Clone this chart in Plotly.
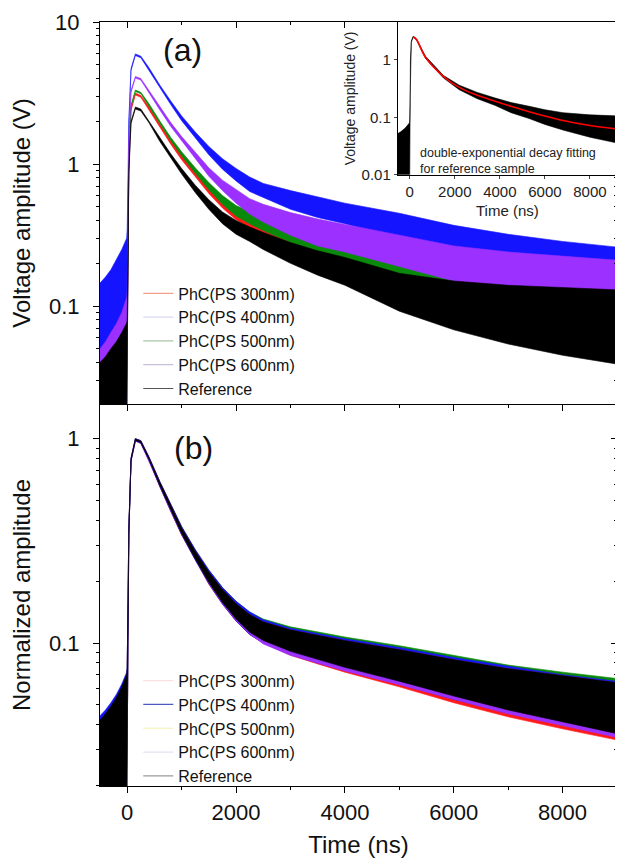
import plotly.graph_objects as go

FONT = "Arial, Liberation Sans, sans-serif"

# ---------------- data ----------------
series_names = ["PhC(PS 300nm)", "PhC(PS 400nm)", "PhC(PS 500nm)", "PhC(PS 600nm)", "Reference"]

# common time grid (ns) for the noise-band envelopes
time_ns = [-500, -400, -300, -200, -100, -10, 0, 30, 70, 150, 250, 400, 600, 800, 1000, 1250,
           1500, 1750, 2000, 2250, 2500, 3000, 3500, 4000, 5000, 6000, 7000, 8000, 9000]

# panel (a): voltage amplitude (V), upper / lower edge of each noisy trace
a_300_hi = [0.030, 0.034, 0.038, 0.043, 0.050, 0.060, 0.065, 1.10, 2.45, 3.16, 3.04, 2.53, 1.91, 1.46, 1.16, 0.89, 0.70, 0.57, 0.485, 0.44, 0.40, 0.345, 0.305, 0.275, 0.22, 0.185, 0.162, 0.147, 0.130]
a_300_lo = [0.015, 0.015, 0.015, 0.015, 0.015, 0.015, 0.015, 1.05, 2.38, 3.06, 2.95, 2.44, 1.82, 1.38, 1.07, 0.81, 0.62, 0.49, 0.405, 0.355, 0.32, 0.260, 0.225, 0.195, 0.145, 0.115, 0.093, 0.080, 0.068]
a_400_hi = [0.145, 0.160, 0.180, 0.210, 0.250, 0.300, 0.350, 2.00, 4.70, 5.96, 5.75, 4.76, 3.59, 2.78, 2.18, 1.68, 1.33, 1.09, 0.93, 0.81, 0.73, 0.65, 0.59, 0.53, 0.45, 0.37, 0.32, 0.285, 0.26]
a_400_lo = [0.015, 0.015, 0.015, 0.015, 0.015, 0.015, 0.015, 1.90, 4.55, 5.80, 5.61, 4.64, 3.45, 2.62, 2.02, 1.52, 1.16, 0.92, 0.76, 0.64, 0.58, 0.48, 0.42, 0.38, 0.30, 0.24, 0.20, 0.170, 0.14]
a_500_hi = [0.040, 0.045, 0.050, 0.058, 0.068, 0.080, 0.085, 1.15, 2.60, 3.32, 3.20, 2.66, 2.01, 1.54, 1.22, 0.94, 0.74, 0.60, 0.51, 0.46, 0.42, 0.36, 0.32, 0.29, 0.23, 0.195, 0.17, 0.153, 0.136]
a_500_lo = [0.015, 0.015, 0.015, 0.015, 0.015, 0.015, 0.015, 1.10, 2.52, 3.24, 3.12, 2.58, 1.93, 1.46, 1.14, 0.86, 0.66, 0.52, 0.43, 0.38, 0.34, 0.28, 0.24, 0.21, 0.155, 0.123, 0.10, 0.086, 0.074]
a_600_hi = [0.050, 0.056, 0.065, 0.075, 0.090, 0.115, 0.125, 1.45, 3.30, 4.13, 4.00, 3.29, 2.50, 1.96, 1.56, 1.20, 0.94, 0.77, 0.66, 0.57, 0.52, 0.455, 0.41, 0.375, 0.315, 0.265, 0.24, 0.225, 0.21]
a_600_lo = [0.015, 0.015, 0.015, 0.015, 0.015, 0.015, 0.015, 1.38, 3.20, 4.03, 3.90, 3.21, 2.40, 1.84, 1.44, 1.09, 0.82, 0.65, 0.53, 0.445, 0.39, 0.315, 0.265, 0.24, 0.19, 0.15, 0.127, 0.107, 0.093]
a_ref_hi = [0.040, 0.044, 0.050, 0.056, 0.065, 0.076, 0.080, 0.90, 2.00, 2.52, 2.44, 2.01, 1.52, 1.18, 0.93, 0.71, 0.56, 0.46, 0.40, 0.36, 0.33, 0.28, 0.245, 0.22, 0.17, 0.15, 0.14, 0.135, 0.13]
a_ref_lo = [0.015, 0.015, 0.015, 0.015, 0.015, 0.015, 0.015, 0.86, 1.93, 2.44, 2.36, 1.95, 1.44, 1.10, 0.85, 0.63, 0.48, 0.38, 0.32, 0.285, 0.25, 0.20, 0.165, 0.14, 0.092, 0.068, 0.054, 0.045, 0.039]

# panel (b): normalized amplitude, upper / lower edge
b_ref_hi = [0.042, 0.045, 0.049, 0.054, 0.061, 0.070, 0.075, 0.36, 0.80, 1.00, 0.975, 0.81, 0.612, 0.473, 0.367, 0.282, 0.223, 0.183, 0.156, 0.138, 0.127, 0.116, 0.109, 0.103, 0.093, 0.083, 0.075, 0.069, 0.064]
b_ref_lo = [0.015, 0.015, 0.015, 0.015, 0.015, 0.015, 0.015, 0.34, 0.78, 0.98, 0.955, 0.79, 0.588, 0.447, 0.343, 0.258, 0.198, 0.158, 0.131, 0.113, 0.103, 0.091, 0.083, 0.076, 0.065, 0.055, 0.047, 0.041, 0.036]
b_300_hi = [0.040, 0.043, 0.047, 0.052, 0.059, 0.068, 0.072, 0.36, 0.80, 0.99, 0.965, 0.80, 0.605, 0.466, 0.360, 0.276, 0.218, 0.178, 0.152, 0.134, 0.123, 0.112, 0.105, 0.099, 0.089, 0.080, 0.072, 0.066, 0.061]
b_300_lo = [0.015, 0.015, 0.015, 0.015, 0.015, 0.015, 0.015, 0.34, 0.78, 0.975, 0.950, 0.785, 0.582, 0.441, 0.338, 0.254, 0.194, 0.155, 0.128, 0.110, 0.100, 0.087, 0.079, 0.072, 0.061, 0.051, 0.0435, 0.038, 0.0335]
b_400_hi = [0.044, 0.047, 0.051, 0.056, 0.063, 0.072, 0.076, 0.36, 0.80, 1.00, 0.98, 0.815, 0.617, 0.478, 0.372, 0.287, 0.228, 0.187, 0.160, 0.142, 0.130, 0.118, 0.111, 0.105, 0.095, 0.085, 0.077, 0.070, 0.065]
b_400_lo = [0.015, 0.015, 0.015, 0.015, 0.015, 0.015, 0.015, 0.34, 0.78, 0.975, 0.950, 0.785, 0.583, 0.442, 0.339, 0.255, 0.195, 0.155, 0.128, 0.110, 0.100, 0.088, 0.080, 0.074, 0.063, 0.053, 0.0455, 0.040, 0.035]
b_500_hi = [0.042, 0.045, 0.049, 0.054, 0.061, 0.070, 0.075, 0.36, 0.80, 1.00, 0.978, 0.813, 0.616, 0.477, 0.371, 0.286, 0.227, 0.187, 0.160, 0.142, 0.131, 0.120, 0.113, 0.107, 0.097, 0.087, 0.078, 0.072, 0.067]
b_500_lo = [0.015, 0.015, 0.015, 0.015, 0.015, 0.015, 0.015, 0.34, 0.78, 0.98, 0.955, 0.79, 0.588, 0.447, 0.343, 0.258, 0.198, 0.158, 0.131, 0.113, 0.103, 0.091, 0.083, 0.076, 0.065, 0.055, 0.047, 0.041, 0.036]
b_600_hi = [0.041, 0.044, 0.048, 0.053, 0.060, 0.069, 0.073, 0.36, 0.80, 1.00, 0.975, 0.81, 0.612, 0.473, 0.367, 0.282, 0.223, 0.183, 0.156, 0.138, 0.127, 0.116, 0.109, 0.103, 0.093, 0.083, 0.075, 0.069, 0.064]
b_600_lo = [0.015, 0.015, 0.015, 0.015, 0.015, 0.015, 0.015, 0.34, 0.78, 0.975, 0.950, 0.785, 0.584, 0.443, 0.340, 0.256, 0.196, 0.156, 0.129, 0.111, 0.099, 0.087, 0.080, 0.073, 0.0625, 0.053, 0.045, 0.0395, 0.0345]

# inset: reference sample with double-exponential fit
inset_time = [-800, -600, -400, -200, -10, 0, 30, 70, 150, 300, 700, 1500, 2200, 3000,
              3800, 4500, 5300, 6000, 6800, 8000, 9300]
inset_hi = [0.045, 0.050, 0.056, 0.065, 0.080, 0.090, 1.00, 2.10, 2.55, 2.30, 1.15, 0.53, 0.36, 0.27, 0.215, 0.18, 0.155, 0.135, 0.12, 0.11, 0.105]
inset_lo = [0.010, 0.010, 0.010, 0.010, 0.010, 0.010, 0.95, 2.00, 2.45, 2.20, 1.05, 0.48, 0.30, 0.21, 0.16, 0.12, 0.095, 0.075, 0.06, 0.045, 0.035]
fit_time = [150, 300, 700, 1500, 2200, 3000, 3800, 4500, 5300, 6000, 6800, 8000, 9300]
fit_val = [2.50, 2.25, 1.10, 0.51, 0.33, 0.24, 0.19, 0.155, 0.125, 0.105, 0.088, 0.072, 0.062]

x_ticks = [0, 2000, 4000, 6000, 8000]

# ---------------- styling ----------------
COL = {"PhC(PS 300nm)": "#ff1a1a", "PhC(PS 400nm)": "#1414ff", "PhC(PS 500nm)": "#0a8a0a",
       "PhC(PS 600nm)": "#9b30ff", "Reference": "#000000"}
LEG_A = {"PhC(PS 300nm)": "#f3a08a", "PhC(PS 400nm)": "#d8d8f4", "PhC(PS 500nm)": "#a9c6a9",
         "PhC(PS 600nm)": "#c8c0d8", "Reference": "#555555"}
LEG_B = {"PhC(PS 300nm)": "#fbe0e0", "PhC(PS 400nm)": "#4a5ac0", "PhC(PS 500nm)": "#f0f0b0",
         "PhC(PS 600nm)": "#e6e0f2", "Reference": "#9a9a9a"}

fig = go.Figure()


def band(t, hi, lo, color, xa, ya):
    fig.add_trace(go.Scatter(x=t + t[::-1], y=hi + lo[::-1], fill="toself", fillcolor=color,
                             mode="lines", line=dict(width=0.6, color=color),
                             hoverinfo="skip", showlegend=False, xaxis=xa, yaxis=ya))


a_bands = {"PhC(PS 300nm)": (a_300_hi, a_300_lo), "PhC(PS 400nm)": (a_400_hi, a_400_lo),
           "PhC(PS 500nm)": (a_500_hi, a_500_lo), "PhC(PS 600nm)": (a_600_hi, a_600_lo),
           "Reference": (a_ref_hi, a_ref_lo)}
b_bands = {"PhC(PS 300nm)": (b_300_hi, b_300_lo), "PhC(PS 400nm)": (b_400_hi, b_400_lo),
           "PhC(PS 500nm)": (b_500_hi, b_500_lo), "PhC(PS 600nm)": (b_600_hi, b_600_lo),
           "Reference": (b_ref_hi, b_ref_lo)}

for name in ["PhC(PS 400nm)", "PhC(PS 300nm)", "PhC(PS 500nm)", "PhC(PS 600nm)", "Reference"]:
    hi, lo = a_bands[name]
    band(time_ns, hi, lo, COL[name], "x", "y")
for name in ["PhC(PS 300nm)", "PhC(PS 500nm)", "PhC(PS 400nm)", "PhC(PS 600nm)", "Reference"]:
    hi, lo = b_bands[name]
    band(time_ns, hi, lo, COL[name], "x2", "y2")

# legend entries
for name in series_names:
    fig.add_trace(go.Scatter(x=[None], y=[None], mode="lines", name=name,
                             line=dict(color=LEG_A[name], width=1.2), legend="legend",
                             xaxis="x", yaxis="y"))
for name in series_names:
    fig.add_trace(go.Scatter(x=[None], y=[None], mode="lines", name=name,
                             line=dict(color=LEG_B[name], width=1.2), legend="legend2",
                             xaxis="x2", yaxis="y2"))

# inset
band(inset_time, inset_hi, inset_lo, "#000000", "x3", "y3")
fig.add_trace(go.Scatter(x=fit_time, y=fit_val, mode="lines", line=dict(color="#ff0000", width=1.6, shape="spline"),
                         showlegend=False, hoverinfo="skip", xaxis="x3", yaxis="y3"))

# invisible carriers for the inward-pointing top/right tick axes
fig.add_trace(go.Scatter(x=[None], y=[None], xaxis="x4", yaxis="y", showlegend=False, hoverinfo="skip"))
fig.add_trace(go.Scatter(x=[None], y=[None], xaxis="x", yaxis="y4", showlegend=False, hoverinfo="skip"))
fig.add_trace(go.Scatter(x=[None], y=[None], xaxis="x2", yaxis="y5", showlegend=False, hoverinfo="skip"))

TF = dict(family=FONT, size=22, color="#111")
line_ax = dict(showline=True, linecolor="#000", linewidth=1.2, showgrid=False, zeroline=False,
               tickcolor="#000", automargin=False)
minor_x_out = dict(dtick=1000, tick0=0, ticks="outside", ticklen=3, tickcolor="#000")
minor_x_in = dict(dtick=1000, tick0=0, ticks="inside", ticklen=3, tickcolor="#000")
minor_y_out = dict(ticks="outside", ticklen=3, tickcolor="#000")
minor_y_in = dict(ticks="inside", ticklen=3, tickcolor="#000")

# the page body adds an 8 px offset, so the figure is sized 8 px smaller
fig.update_layout(
    width=615, height=855,
    margin=dict(l=92, r=6, t=14, b=77),
    paper_bgcolor="white", plot_bgcolor="white",
    font=dict(family=FONT, color="#111"),
    xaxis=dict(domain=[0, 1], anchor="y", range=[-500, 9000], tickvals=x_ticks,
               showticklabels=False, ticks="outside", ticklen=6, minor=minor_x_out, **line_ax),
    xaxis4=dict(overlaying="x", side="top", anchor="y", range=[-500, 9000], tickvals=x_ticks,
                showticklabels=False, ticks="inside", ticklen=6, minor=minor_x_in, **line_ax),
    yaxis=dict(domain=[0.5, 1], anchor="x", type="log", range=[-1.69, 1.0], dtick=1,
               ticks="outside", ticklen=6, ticklabelstandoff=9, minor=minor_y_out, tickfont=TF,
               title=dict(text="Voltage amplitude (V)", font=dict(family=FONT, size=24, color="#111"), standoff=13),
               **line_ax),
    yaxis4=dict(overlaying="y", side="right", anchor="x", type="log", range=[-1.69, 1.0], dtick=1,
                showticklabels=False, ticks="inside", ticklen=6, minor=minor_y_in, **line_ax),
    xaxis2=dict(domain=[0, 1], anchor="y2", range=[-500, 9000], tickvals=x_ticks,
                ticks="outside", ticklen=6, minor=minor_x_out, tickfont=TF,
                title=dict(text="Time (ns)", font=dict(family=FONT, size=24, color="#111"), standoff=12),
                **line_ax),
    yaxis2=dict(domain=[0, 0.5], anchor="x2", type="log", range=[-1.70, 0.17], dtick=1,
                ticks="outside", ticklen=6, ticklabelstandoff=9, minor=minor_y_out, tickfont=TF,
                title=dict(text="Normalized amplitude", font=dict(family=FONT, size=24, color="#111"), standoff=13),
                **line_ax),
    yaxis5=dict(overlaying="y2", side="right", anchor="x2", type="log", range=[-1.70, 0.17], dtick=1,
                showticklabels=False, ticks="inside", ticklen=6, minor=minor_y_in, **line_ax),
    xaxis3=dict(domain=[0.576, 1.0], anchor="y3", range=[-530, 9200], tickvals=x_ticks,
                showline=True, linecolor="#000", linewidth=1, mirror=True, showgrid=False, zeroline=False,
                ticks="outside", ticklen=3, tickfont=dict(family=FONT, size=15, color="#222"), automargin=False,
                title=dict(text="Time (ns)", font=dict(family=FONT, size=15, color="#222"), standoff=6)),
    yaxis3=dict(domain=[0.80, 1.0], anchor="x3", type="log", range=[-2.0, 0.655], dtick=1,
                showline=True, linecolor="#000", linewidth=1, mirror=True, showgrid=False, zeroline=False,
                ticks="outside", ticklen=3, tickfont=dict(family=FONT, size=15, color="#222"), automargin=False,
                title=dict(text="Voltage amplitude (V)", font=dict(family=FONT, size=14, color="#222"), standoff=2)),
    legend=dict(x=0.074, y=0.667, xanchor="left", yanchor="top", bgcolor="rgba(0,0,0,0)",
                font=dict(family=FONT, size=16, color="#111"), tracegroupgap=0),
    legend2=dict(x=0.074, y=0.160, xanchor="left", yanchor="top", bgcolor="rgba(0,0,0,0)",
                 font=dict(family=FONT, size=16, color="#111"), tracegroupgap=0),
    annotations=[
        dict(text="(a)", x=0.16, y=0.963, xref="paper", yref="paper", showarrow=False,
             xanchor="center", yanchor="middle", font=dict(family=FONT, size=32, color="#111")),
        dict(text="(b)", x=0.18, y=0.442, xref="paper", yref="paper", showarrow=False,
             xanchor="center", yanchor="middle", font=dict(family=FONT, size=32, color="#111")),
        dict(text="double-exponential decay fitting<br>for reference sample", x=0.615, y=0.818,
             xref="paper", yref="paper", xanchor="left", yanchor="middle", align="left",
             showarrow=False, font=dict(family=FONT, size=12.5, color="#222")),
    ],
)

fig.write_html("out.html")
